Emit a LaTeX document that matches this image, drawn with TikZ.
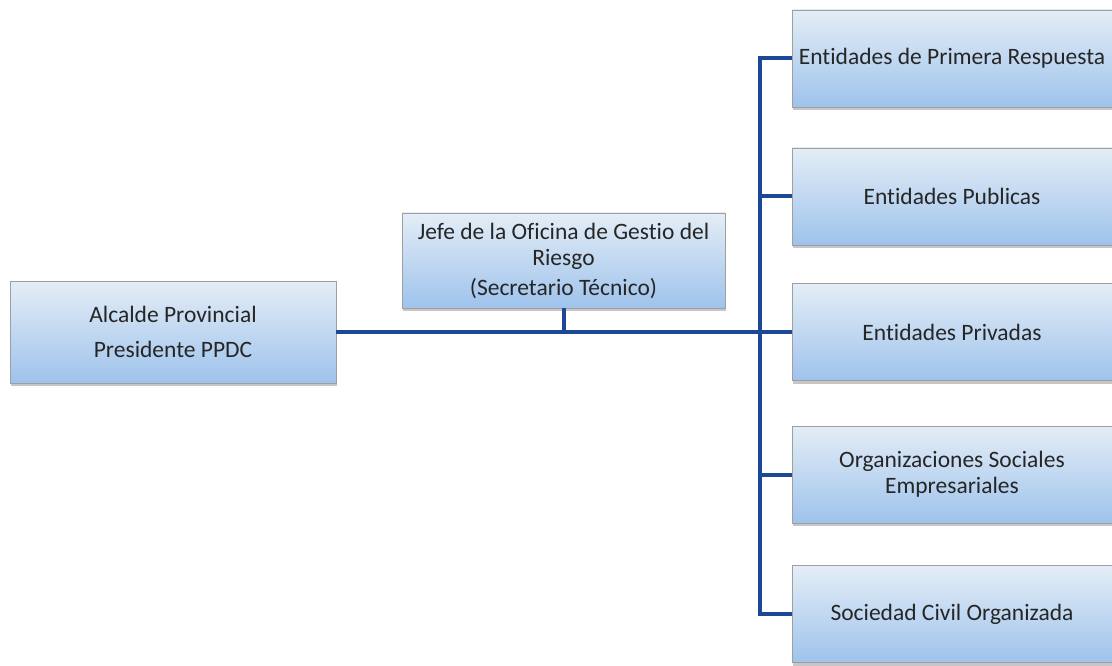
\documentclass[tikz,border=0pt]{standalone}
\usepackage{fontspec}
\setmainfont{Carlito}[Ligatures={NoCommon}]
\usetikzlibrary{positioning,shadows}
\definecolor{topblue}{RGB}{228,237,246}
\definecolor{botblue}{RGB}{158,195,236}
\definecolor{linkblue}{RGB}{28,72,150}

\begin{document}
\begin{tikzpicture}[x=1pt,y=-1pt,
box/.style={draw=gray!75,line width=0.8pt,top color=topblue,bottom color=botblue,
  minimum width=320pt,minimum height=97pt,align=center,inner sep=2pt,
  font=\fontsize{23.5}{26}\selectfont,text=black!85,
  drop shadow={shadow xshift=1pt,shadow yshift=-3pt,opacity=.45}},
link/.style={draw=linkblue,line width=4pt,line join=miter}]
\useasboundingbox (0,0) rectangle (1112,666);
\node[box,minimum width=326pt,minimum height=102pt](alc) at (173,332){Alcalde Provincial\\[9pt]Presidente PPDC};
\node[box,minimum width=323pt,minimum height=95pt](jefe) at (563.5,260.5){Jefe de la Oficina de Gestio del\\Riesgo\\[4pt](Secretario Técnico)};
\node[box](r1) at (952,58.5){Entidades de Primera Respuesta};
\node[box](r2) at (952,196.5){Entidades Publicas};
\node[box](r3) at (952,332){Entidades Privadas};
\node[box](r4) at (952,474.5){Organizaciones Sociales\\Empresariales};
\node[box](r5) at (952,614){Sociedad Civil Organizada};
\coordinate(bustop) at (760,58.5);
\coordinate(busbot) at (760,614);
\path[link](alc.east)--(r3.west);
\path[link](jefe.south)--(jefe.south|-alc.east);
\path[link](r1.west)--(bustop)--(busbot)--(r5.west);
\path[link](r2.west)--(r2.west-|bustop);
\path[link](r4.west)--(r4.west-|bustop);
\end{tikzpicture}
\end{document}
